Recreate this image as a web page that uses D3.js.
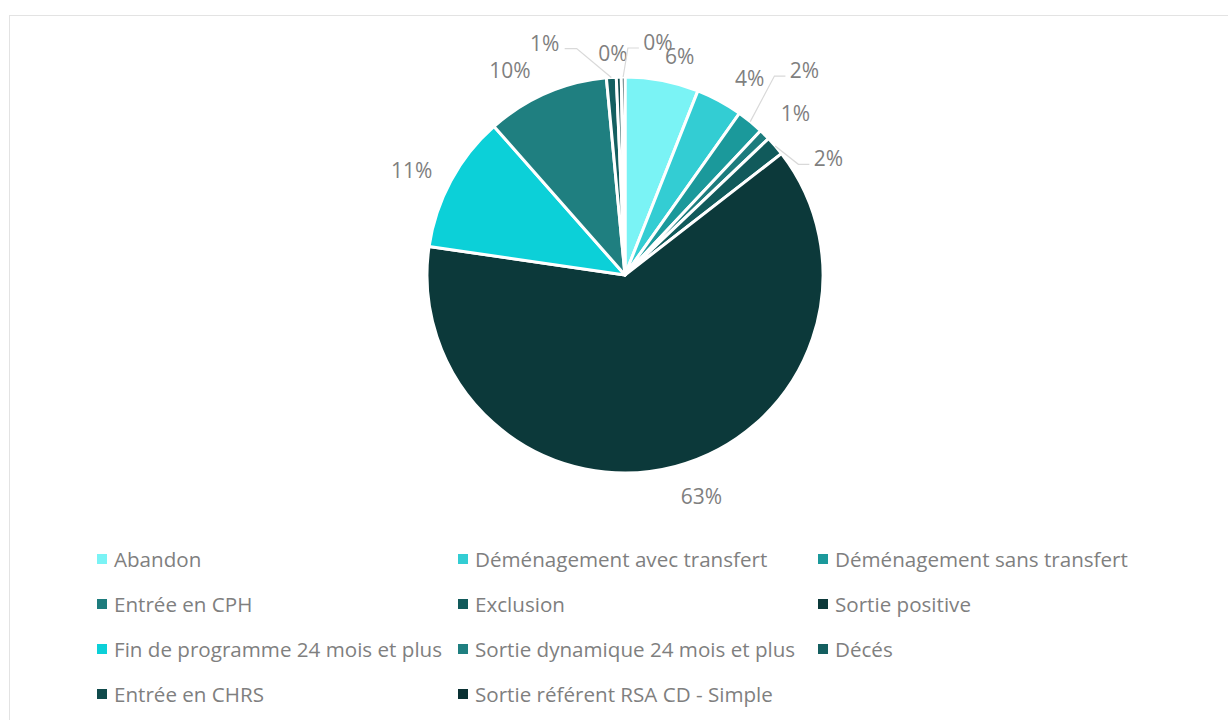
<!DOCTYPE html>
<html>
<head>
<meta charset="utf-8">
<script src="https://cdn.jsdelivr.net/npm/d3@7"></script>
<style>
  html, body { margin: 0; padding: 0; background: #fff; }
  svg { display: block; }
  text { font-family: "Open Sans", Lato, sans-serif; fill: #7f7f7f; }
</style>
</head>
<body>
<svg id="chart" width="1228" height="720"></svg>
<script>
// ---- data ----
const categories = [
  "Abandon",
  "Déménagement avec transfert",
  "Déménagement sans transfert",
  "Entrée en CPH",
  "Exclusion",
  "Sortie positive",
  "Fin de programme 24 mois et plus",
  "Sortie dynamique 24 mois et plus",
  "Décés",
  "Entrée en CHRS",
  "Sortie référent RSA CD - Simple"
];
const values = [6.0, 3.8, 2.2, 0.9, 1.6, 62.8, 11.2, 10.0, 0.8, 0.4, 0.3];
const labels = ["6%", "4%", "2%", "1%", "2%", "63%", "11%", "10%", "1%", "0%", "0%"];
const colors = ["#7AF3F5", "#33CDD3", "#1B999B", "#1D7C7D", "#115A5B", "#0C393A",
                "#0CD0D8", "#1F7F80", "#145F60", "#104B4C", "#0A3133"];

// ---- layout ----
const W = 1228, H = 720;
const cx = 625, cy = 275, r = 198;
const labelR = 222;
// label nudges (dx, dy) from the label-radius point
const labelNudge = [[13,-1],[19,-2],[39,-33],[14,-5],[35,28],[20,6],[-18,1],[-27,-1],[-65,-11],[-5,0],[35,-11]];
// which labels use leader lines
const leader = [false,false,true,false,true,false,false,false,true,false,true];

const svg = d3.select("#chart");

// chart border
svg.append("rect")
  .attr("x", 9.5).attr("y", 15.5)
  .attr("width", W).attr("height", H)
  .attr("fill", "none").attr("stroke", "#e3e3e3").attr("stroke-width", 1);

const pie = d3.pie().sort(null).value(d => d)(values);
const arc = d3.arc().innerRadius(0).outerRadius(r);

const g = svg.append("g").attr("transform", `translate(${cx},${cy})`);

g.selectAll("path.slice")
  .data(pie)
  .join("path")
  .attr("class", "slice")
  .attr("d", arc)
  .attr("fill", (d, i) => colors[i])
  .attr("stroke", "#fff")
  .attr("stroke-width", 3)
  .attr("stroke-linejoin", "round");

function polar(a, R) { return [R * Math.sin(a), -R * Math.cos(a)]; }

pie.forEach((d, i) => {
  const a = (d.startAngle + d.endAngle) / 2;
  const [px, py] = polar(a, labelR);
  const lx = px + labelNudge[i][0], ly = py + labelNudge[i][1];
  if (leader[i]) {
    const [ex, ey] = polar(a, r);
    const right = lx > ex;
    const ly2 = ly + 6;
    const elbowX = right ? lx - 30 : lx + 32;
    const endX = right ? lx - 19 : lx + 20;
    g.append("polyline")
      .attr("points", `${ex},${ey} ${elbowX},${ly2} ${endX},${ly2}`)
      .attr("fill", "none").attr("stroke", "#d9d9d9").attr("stroke-width", 1.2);
  }
  g.append("text")
    .attr("x", lx).attr("y", ly)
    .attr("text-anchor", "middle")
    .attr("dominant-baseline", "central")
    .style("font-size", "21px")
    .text(labels[i]);
});

// legend
const legCols = [97, 458, 818];
const legRows = [559, 604, 649, 694];
const leg = svg.append("g");
categories.forEach((c, i) => {
  const col = i % 3, row = Math.floor(i / 3);
  const x = legCols[col], y = legRows[row];
  leg.append("rect").attr("x", x).attr("y", y - 5).attr("width", 10).attr("height", 10)
    .attr("fill", colors[i]);
  leg.append("text").attr("x", x + 17).attr("y", y)
    .attr("dominant-baseline", "central")
    .style("font-size", "20.6px")
    .text(c);
});
</script>
</body>
</html>
